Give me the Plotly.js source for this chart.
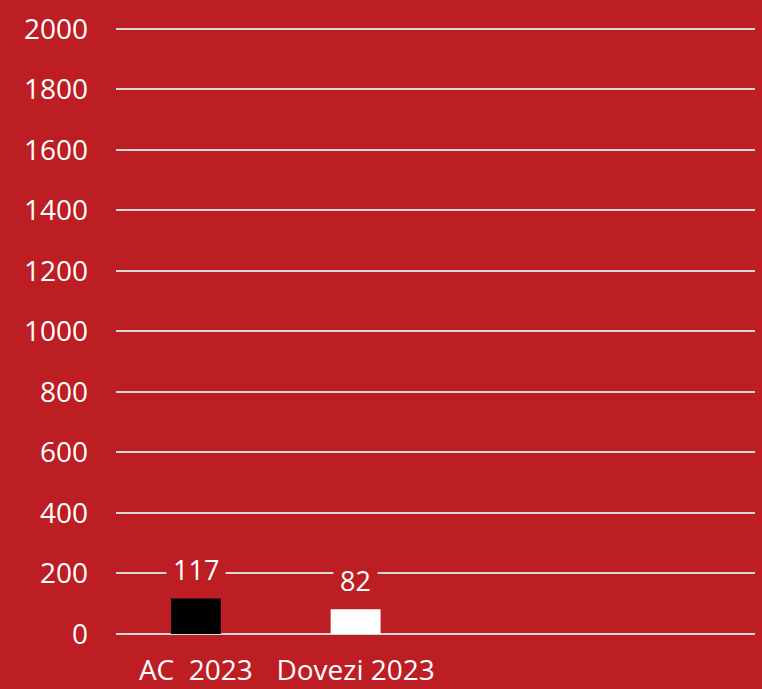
<!DOCTYPE html>
<html><head><meta charset="utf-8">
<script src="https://cdn.plot.ly/plotly-3.0.1.min.js"></script>
<style>html,body{margin:0;padding:0;background:#BC1E24;}</style>
</head><body>
<div id="chart" style="width:762px;height:689px;"></div>
<script>
const categories = ["AC\u00a0 2023", "Dovezi 2023"];
const values = [117, 82];
const barColors = ["#000000", "#FFFFFF"];
const yTicks = [0, 200, 400, 600, 800, 1000, 1200, 1400, 1600, 1800, 2000];

const RED = "#BC1E24";
const FONT = "Open Sans";

const trace = {
  type: "bar",
  x: categories,
  y: values,
  marker: {color: barColors, line: {width: 0}},
  hoverinfo: "none"
};

const annotations = categories.map((c, i) => ({
  x: c, y: values[i], xref: "x", yref: "y",
  text: String(values[i]),
  showarrow: false,
  yanchor: "middle",
  yshift: 29,
  bgcolor: RED,
  borderpad: 6,
  font: {family: FONT, size: 27, color: "#FFFFFF"}
}));

const layout = {
  width: 762, height: 689,
  paper_bgcolor: RED, plot_bgcolor: RED,
  margin: {l: 116, r: 7, t: 24, b: 55},
  showlegend: false,
  bargap: 0.6875,
  font: {family: FONT, color: "#FFFFFF", size: 20},
  xaxis: {
    type: "category",
    range: [-0.5, 3.5],
    showgrid: false, zeroline: false, showline: false,
    ticks: "", tickfont: {family: FONT, size: 28, color: "#FFFFFF"},
    ticklabelstandoff: 17
  },
  yaxis: {
    range: [0, 2016],
    tickvals: yTicks,
    ticktext: yTicks.map(String),
    showgrid: true, gridcolor: "#D9D9D9", gridwidth: 2,
    zeroline: true, zerolinecolor: "#D9D9D9", zerolinewidth: 2,
    showline: false, ticks: "",
    ticklabelstandoff: 27,
    tickfont: {family: FONT, size: 28, color: "#FFFFFF"}
  },
  annotations: annotations
};

Plotly.newPlot("chart", [trace], layout, {displayModeBar: false, staticPlot: true});
</script>
</body></html>
